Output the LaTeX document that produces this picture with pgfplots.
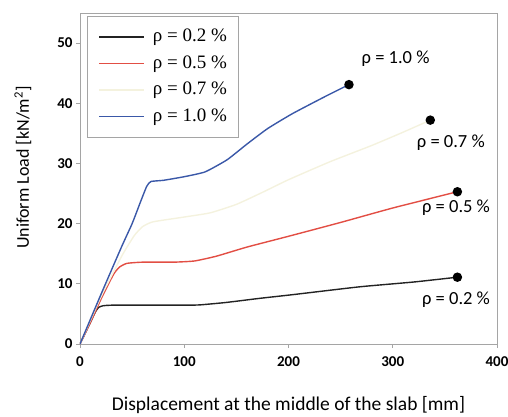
\documentclass[border=0pt]{standalone}
\usepackage{pgfplots}
\pgfplotsset{compat=1.18}
\usepackage{fontspec}
\setmainfont{Carlito}
\newfontfamily\legfont{Liberation Serif}
\definecolor{c02}{RGB}{35,35,35}
\definecolor{c05}{RGB}{226,78,68}
\definecolor{c07}{RGB}{244,242,222}
\definecolor{c10}{RGB}{58,88,168}
\definecolor{framegray}{RGB}{165,165,165}
\begin{document}
\begin{tikzpicture}
\path[use as bounding box] (-80pt,-72pt) rectangle (428pt,344pt);
\begin{axis}[
  at={(0pt,0pt)}, anchor=south west,
  scale only axis, width=417pt, height=331pt,
  xmin=0, xmax=400, ymin=0, ymax=55,
  xtick={0,100,...,400}, ytick={0,10,...,50},
  axis line style={framegray, line width=0.9pt},
  tick style={framegray, line width=0.9pt},
  tick align=outside, tick pos=left, major tick length=4pt,
  /pgf/number format/assume math mode=true,
  ticklabel style={font=\fontsize{15}{15}\selectfont\bfseries},
  xticklabel style={yshift=-5pt},
  xlabel={Displacement at the middle of the slab [mm]},
  ylabel={Uniform Load [kN/m\textsuperscript{2}]},
  xlabel style={font=\fontsize{19.5}{20}\selectfont, at={(axis description cs:0.5,0)}, anchor=center, yshift=-61pt},
  ylabel style={font=\fontsize{18}{18}\selectfont, at={(axis description cs:-0.137,0.533)}, anchor=center},
  legend style={at={(axis description cs:0.0168,0.992)}, anchor=north west,
    draw=framegray, line width=1pt, font=\legfont\fontsize{19}{19}\selectfont,
    inner xsep=11pt, inner ysep=10.5pt, row sep=5.5pt,
    nodes={inner sep=1pt, text height=14pt, text depth=5pt},
    cells={anchor=west}},
  legend image code/.code={\draw[#1, line width=1.4pt] (0pt,0pt) -- (45pt,0pt); \path (52pt,0pt);},
  legend cell align=left,
  every axis plot/.append style={line width=1.4pt, smooth, tension=0.3},
]
\addplot[c02] coordinates {(0,0) (5,1.8) (10,3.6) (15,5.4) (18,6.1) (22,6.35) (30,6.45) (60,6.45) (100,6.45) (115,6.5) (140,6.9) (173,7.6) (204,8.2) (268,9.5) (320,10.3) (362,11.1)};
\addlegendentry{ρ = 0.2 \%}
\addplot[c05] coordinates {(0,0) (10,3.6) (20,7.4) (28,10.2) (33,11.8) (38,12.8) (45,13.4) (60,13.6) (90,13.6) (110,13.8) (131,14.6) (160,16.1) (200,17.9) (250,20.2) (300,22.6) (362,25.3)};
\addlegendentry{ρ = 0.5 \%}
\addplot[c07] coordinates {(0,0) (20,7.8) (40,14.6) (52,18) (60,19.5) (70,20.3) (100,21.1) (125,21.8) (150,23.2) (175,25.2) (200,27.3) (240,30.3) (280,33) (310,35.2) (336,37.2)};
\addlegendentry{ρ = 0.7 \%}
\addplot[c10] coordinates {(0,0) (20,8.2) (40,16.2) (50,20) (58,23.6) (64,26.2) (68,27) (80,27.2) (100,27.8) (120,28.6) (141,30.6) (160,33.2) (180,35.8) (204,38.3) (236,41.2) (258,43.1)};
\addlegendentry{ρ = 1.0 \%}
\addplot[only marks, mark=*, mark size=4pt, black, forget plot] coordinates {(258,43.1) (336,37.2) (362,25.3) (362,11.1)};
\begin{scope}[every node/.style={font=\fontsize{18.5}{18.5}\selectfont, anchor=west, inner sep=0pt}]
\node at (axis cs:270,47.4) {ρ = 1.0 \%};
\node at (axis cs:323,33.5) {ρ = 0.7 \%};
\node at (axis cs:328,22.6) {ρ = 0.5 \%};
\node at (axis cs:328,7.3) {ρ = 0.2 \%};
\end{scope}
\end{axis}
\end{tikzpicture}
\end{document}
